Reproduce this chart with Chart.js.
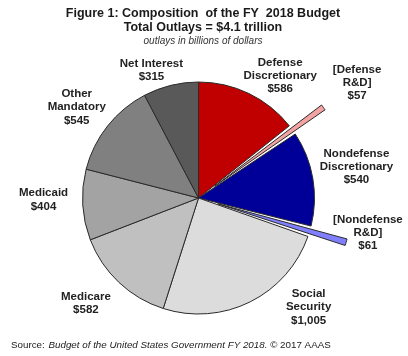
<!DOCTYPE html>
<html><head><meta charset="utf-8">
<script src="https://cdn.jsdelivr.net/npm/chart.js@4/dist/chart.umd.min.js"></script>
<style>html,body{margin:0;padding:0;background:#fff;}#wrap{width:408px;height:356px;position:relative;}</style>
</head><body><div id="wrap"><canvas id="c" width="408" height="356"></canvas></div>
<script>
// ---- data ----
const categories = ['Defense Discretionary','[Defense R&D]','Nondefense Discretionary','[Nondefense R&D]','Social Security','Medicare','Medicaid','Other Mandatory','Net Interest'];
const labelLines = [['Defense','Discretionary'],['[Defense','R&D]'],['Nondefense','Discretionary'],['[Nondefense','R&D]'],['Social','Security'],['Medicare'],['Medicaid'],['Other','Mandatory'],['Net Interest']];
const outlays = [586, 57, 540, 61, 1005, 582, 404, 545, 315];
const valueLabels = ['$586','$57','$540','$61','$1,005','$582','$404','$545','$315'];
const titleLines = ['Figure 1: Composition  of the FY  2018 Budget', 'Total Outlays = $4.1 trillion'];
const subtitleText = 'outlays in billions of dollars';

// ---- styles ----
const colors = ['#c00000','#f4a3a3','#000099','#7f7fff','#dcdcdc','#c0c0c0','#a3a3a3','#808080','#595959'];
const sliceOffsets = [0, 80, 0, 80, 0, 0, 0, 0, 0];
const labelAngleShift = [8, 0, -1.4, -5, -18.8, 3.7, 2.7, -1.6, -6.4];
const labelGap = [31, 80, 45, 57, 39, 38, 39, 36, 20];

const textPlugin = {
  id: 'texts',
  afterDraw(chart) {
    const ctx = chart.ctx;
    ctx.save();
    ctx.fillStyle = '#1a1a1a';
    ctx.textAlign = 'center';
    ctx.textBaseline = 'middle';
    ctx.font = 'bold 12.5px "Liberation Sans", Arial, sans-serif';
    ctx.fillText(titleLines[0], 203, 14);
    ctx.fillText(titleLines[1], 203, 28);
    ctx.font = 'italic 10px "Liberation Sans", Arial, sans-serif';
    ctx.fillStyle = '#333';
    ctx.fillText(subtitleText, 203, 41);

    // slice labels
    const meta = chart.getDatasetMeta(0);
    ctx.font = 'bold 11.5px "Liberation Sans", Arial, sans-serif';
    ctx.fillStyle = '#222';
    meta.data.forEach((el, i) => {
      const p = el.getProps(['x','y','startAngle','endAngle','outerRadius'], true);
      const a = (p.startAngle + p.endAngle) / 2 + labelAngleShift[i] * Math.PI / 180;
      const d = p.outerRadius + labelGap[i];
      const cx = p.x + Math.cos(a) * d;
      const cy = p.y + Math.sin(a) * d;
      const lines = labelLines[i].concat([valueLabels[i]]);
      const lh = 13.3;
      lines.forEach((t, j) => {
        ctx.fillText(t, cx, cy + (j - (lines.length - 1) / 2) * lh);
      });
    });

    // source line
    ctx.textAlign = 'left';
    ctx.fillStyle = '#222';
    let x = 11; const y = 345;
    ctx.font = '9.8px "Liberation Sans", Arial, sans-serif';
    ctx.fillText('Source: ', x, y); x += ctx.measureText('Source: ').width + 1;
    ctx.font = 'italic 9.8px "Liberation Sans", Arial, sans-serif';
    const it = 'Budget of the United States Government FY 2018.';
    ctx.fillText(it, x, y); x += ctx.measureText(it + ' ').width;
    ctx.font = '9.8px "Liberation Sans", Arial, sans-serif';
    ctx.fillText('\u00A9 2017 AAAS', x, y);
    ctx.restore();
  }
};

new Chart(document.getElementById('c'), {
  type: 'pie',
  data: {
    labels: categories,
    datasets: [{
      data: outlays,
      backgroundColor: colors,
      borderColor: '#2a2a2a',
      borderWidth: 1,
      offset: sliceOffsets,
      radius: 116
    }]
  },
  options: {
    responsive: false,
    animation: false,
    events: [],
    radius: 116,
    layout: { padding: { top: 40, bottom: 0, left: 0, right: 11 } },
    plugins: { legend: { display: false }, tooltip: { enabled: false }, title: { display: false } }
  },
  plugins: [textPlugin]
});
</script>
</body></html>
